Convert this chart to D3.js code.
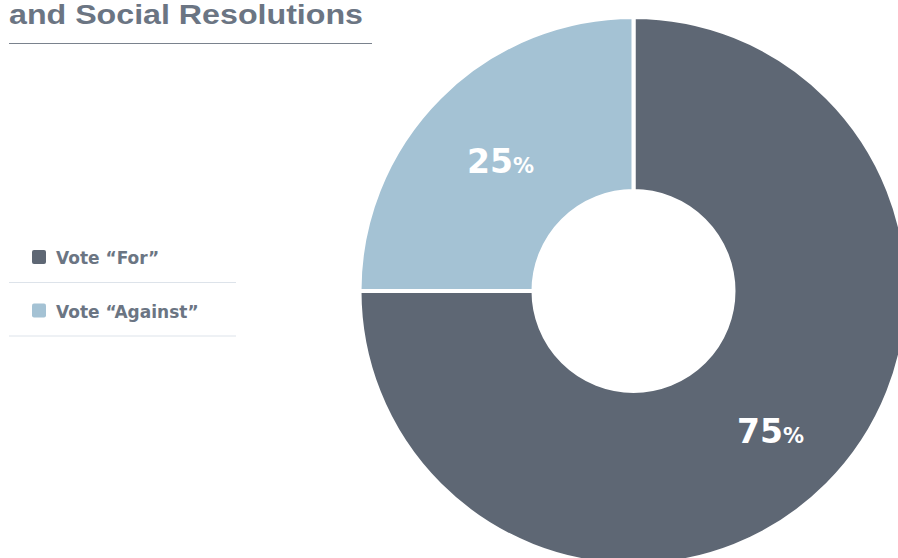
<!DOCTYPE html>
<html>
<head>
<meta charset="utf-8">
<script src="https://cdn.jsdelivr.net/npm/d3@7"></script>
<style>
	body { margin: 0; background: #fff; overflow: hidden; }
	svg { display: block; }
</style>
</head>
<body>
<div class="chart"></div>
<script>
// vote split data
const categories = [ 'Vote “For”', 'Vote “Against”' ];
const values = [ 75, 25 ];
const colors = [ '#5e6774', '#a4c2d4' ];
const title = 'and Social Resolutions';

const width = 898;
const height = 558;
const cx = 633.5;
const cy = 291;
const outerR = 274;
const innerR = 100;
const textColor = '#6b7583';
const titleFont = '"Liberation Sans", Arial, sans-serif';
const bodyFont = '"DejaVu Sans", sans-serif';

const svg = d3
	.select('.chart')
	.append('svg')
	.attr('width', width)
	.attr('height', height);

// title and rule under it
svg
	.append('text')
	.attr('x', 9)
	.attr('y', 24)
	.attr('font-family', titleFont)
	.attr('font-weight', 700)
	.attr('font-size', 28)
	.attr('fill', textColor)
	.attr('textLength', 354)
	.attr('lengthAdjust', 'spacingAndGlyphs')
	.text(title);

svg.append('line').attr('x1', 9).attr('x2', 372).attr('y1', 43.5).attr('y2', 43.5).attr('stroke', '#7a828d').attr('stroke-width', 1);

// donut
const pie = d3.pie().sort(null).value((d) => d)(values);
const arc = d3.arc().innerRadius(innerR).outerRadius(outerR);
const labelArc = d3.arc().innerRadius(191).outerRadius(191);

const g = svg.append('g').attr('transform', `translate(${cx},${cy})`);

g
	.selectAll('path')
	.data(pie)
	.join('path')
	.attr('d', arc)
	.attr('fill', (d, i) => colors[i])
	.attr('stroke', '#fff')
	.attr('stroke-width', 4)
	.attr('stroke-linejoin', 'miter');

// labels sit a bit below the arc centroid
const labels = g
	.selectAll('text')
	.data(pie)
	.join('text')
	.attr('transform', (d) => {
		const [ x, y ] = labelArc.centroid(d);
		return `translate(${x + 2},${y + 17})`;
	})
	.attr('text-anchor', 'middle')
	.attr('font-family', bodyFont)
	.attr('font-weight', 700)
	.attr('fill', '#fff');

labels.append('tspan').attr('font-size', 33).text((d) => d.data);
labels.append('tspan').attr('font-size', 21).text('%');

// legend
const legend = svg
	.append('g')
	.selectAll('g')
	.data(categories)
	.join('g')
	.attr('transform', (d, i) => `translate(0,${i * 53.5})`);

legend
	.append('rect')
	.attr('x', 32)
	.attr('y', 250)
	.attr('width', 14)
	.attr('height', 14)
	.attr('rx', 2)
	.attr('fill', (d, i) => colors[i]);

legend
	.append('text')
	.attr('x', 56)
	.attr('y', 264)
	.attr('font-family', bodyFont)
	.attr('font-weight', 700)
	.attr('font-size', 17)
	.attr('fill', textColor)
	.text((d) => d);

legend
	.append('line')
	.attr('x1', 9)
	.attr('x2', 236)
	.attr('y1', 282.5)
	.attr('y2', 282.5)
	.attr('stroke', '#dde3ea')
	.attr('stroke-width', 1);
</script>
</body>
</html>
